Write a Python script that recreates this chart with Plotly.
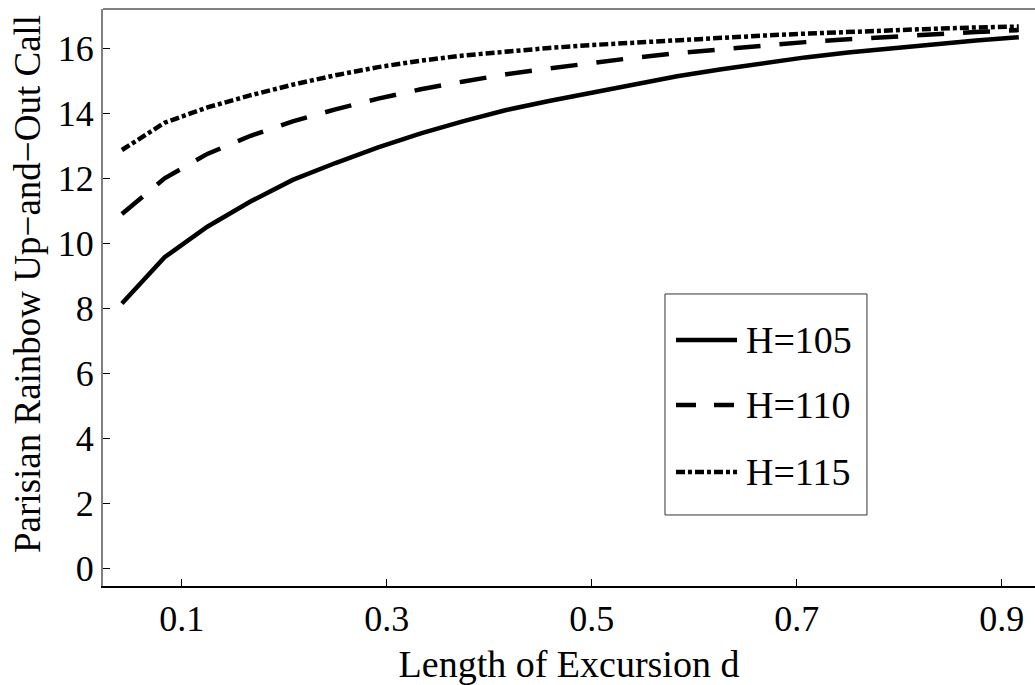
import plotly.graph_objects as go

# Length of excursion d (in years, k/24)
d_values = [1/24, 2/24, 3/24, 4/24, 5/24, 6/24, 7/24, 8/24, 9/24, 10/24, 11/24,
            12/24, 13/24, 14/24, 15/24, 16/24, 17/24, 18/24, 19/24, 20/24, 21/24, 22/24]

h105 = [8.15, 9.57, 10.51, 11.28, 11.95, 12.47, 12.95, 13.38, 13.76, 14.10, 14.38,
        14.64, 14.90, 15.14, 15.35, 15.54, 15.72, 15.87, 16.00, 16.12, 16.24, 16.34]
h110 = [10.90, 12.00, 12.75, 13.30, 13.75, 14.12, 14.45, 14.74, 14.98, 15.20, 15.38,
        15.55, 15.71, 15.85, 15.97, 16.09, 16.19, 16.28, 16.36, 16.43, 16.50, 16.56]
h115 = [12.87, 13.71, 14.18, 14.55, 14.88, 15.17, 15.42, 15.62, 15.78, 15.91, 16.01,
        16.10, 16.18, 16.25, 16.32, 16.39, 16.45, 16.51, 16.56, 16.60, 16.64, 16.67]

series_names = ["H=105", "H=110", "H=115"]
x_ticks = [0.1, 0.3, 0.5, 0.7, 0.9]
y_ticks = [0, 2, 4, 6, 8, 10, 12, 14, 16]
x_title = "Length of Excursion d"
y_title = "Parisian Rainbow Up\u2212and\u2212Out Call"

dashes = ["solid", "27px,19px", "9px,3px,4px,3px"]
legend_dashes = ["solid", "20px,18px", "9px,3px,4px,3px"]
series = [h105, h110, h115]

FONT = "'Liberation Serif', 'Times New Roman', Times, 'DejaVu Serif', serif"
fig = go.Figure()
for name, ys, dsh in zip(series_names, series, dashes):
    fig.add_trace(go.Scatter(x=d_values, y=ys, mode="lines", name=name,
                             line=dict(color="black", width=4.5, dash=dsh),
                             showlegend=False))

# manual legend (box, samples, labels) in paper coordinates
shapes = [
    dict(type="line", xref="paper", yref="paper", x0=0, x1=1, y0=1, y1=1,
         line=dict(color="#808080", width=2)),
    dict(type="rect", xref="paper", yref="paper", x0=0.603, x1=0.8197, y0=0.1231, y1=0.5061,
         line=dict(color="#333333", width=1), fillcolor="white"),
]
annotations = []
rows_y = [0.4263, 0.3137, 0.1976]
for name, dsh, yy in zip(series_names, legend_dashes, rows_y):
    shapes.append(dict(type="line", xref="paper", yref="paper", x0=0.6148, x1=0.6803,
                       y0=yy, y1=yy, line=dict(color="black", width=4.5, dash=dsh)))
    annotations.append(dict(xref="paper", yref="paper", x=0.6878, y=yy, text=name,
                            showarrow=False, xanchor="left", yanchor="middle",
                            font=dict(family=FONT, size=38, color="black")))

# y-axis title as rotated annotation (positioned like the reference)
annotations.append(dict(xref="paper", yref="paper", x=-0.0805, y=0.5234, text=y_title,
                        textangle=-90, showarrow=False, xanchor="center", yanchor="middle",
                        font=dict(family=FONT, size=37, color="black")))

fig.update_layout(
    width=1035, height=685,
    margin=dict(l=103, r=0, t=9, b=99, autoexpand=False),
    paper_bgcolor="white", plot_bgcolor="white",
    font=dict(family=FONT, size=36, color="black"),
    shapes=shapes, annotations=annotations,
)
fig.update_xaxes(range=[0.02322, 0.93249], tickvals=x_ticks, ticktext=[str(v) for v in x_ticks],
                 showgrid=False, zeroline=False, showline=True, linecolor="black", linewidth=2,
                 ticks="inside", ticklen=7, tickcolor="black", tickwidth=1, automargin=False,
                 tickfont=dict(family=FONT, size=36),
                 title=dict(text=x_title, font=dict(family=FONT, size=38), standoff=19))
fig.update_yaxes(range=[-0.545, 17.209], tickvals=y_ticks,
                 showgrid=False, zeroline=False, showline=True, linecolor="#808080", linewidth=2,
                 ticks="inside", ticklen=7, tickcolor="black", tickwidth=1, automargin=False,
                 tickfont=dict(family=FONT, size=36))

fig.write_html("out.html", config={"displayModeBar": False},
               post_script="document.body.style.margin='0';document.body.style.padding='0';")
